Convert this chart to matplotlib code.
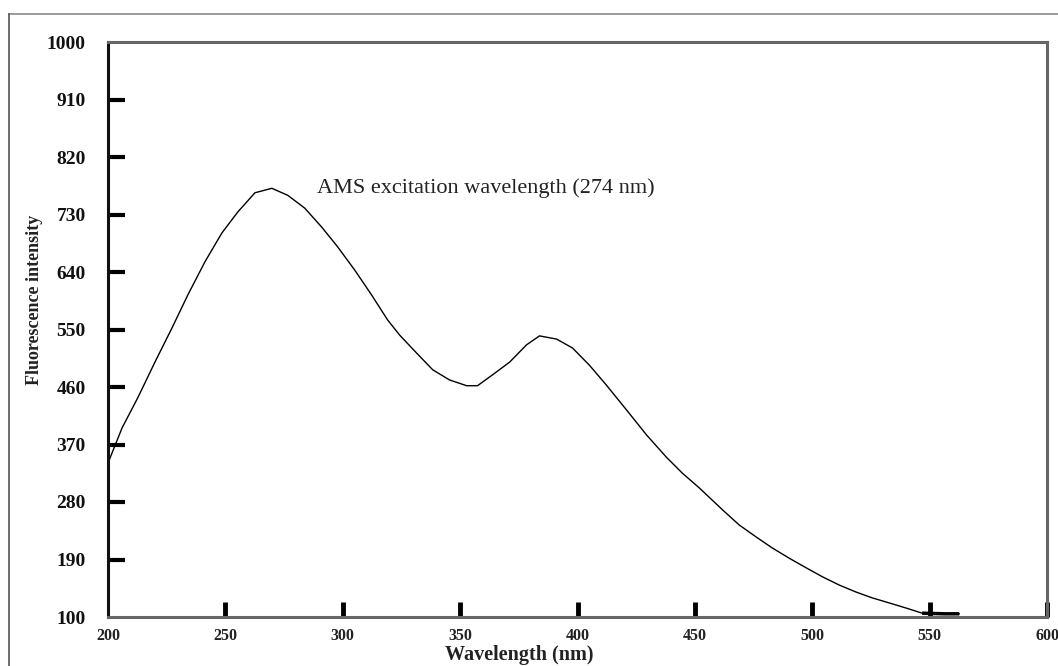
import matplotlib
matplotlib.use("Agg")
import matplotlib.pyplot as plt
from matplotlib.lines import Line2D

# Data
wavelength = [200.0, 206.0, 212.8, 220.0, 227.2, 234.0, 241.3, 248.5, 255.3, 262.6,
              269.8, 276.6, 283.8, 291.1, 297.9, 305.1, 312.3, 319.1, 324.3, 331.5,
              338.3, 345.5, 352.8, 357.4, 363.8, 371.1, 378.3, 383.8, 391.1, 397.9,
              405.1, 412.3, 420.9, 429.4, 437.9, 444.7, 451.9, 461.7, 468.9, 476.2,
              483.0, 490.2, 497.4, 504.3, 511.5, 518.7, 525.5, 532.8, 540.0, 546.8,
              556.2, 562.6]
intensity = [341, 396, 444, 499, 552, 604, 656, 701, 734, 764,
             771, 760, 740, 710, 679, 643, 604, 565, 541, 513,
             487, 471, 462, 462, 479, 499, 526, 540, 535, 521,
             494, 463, 424, 385, 350, 325, 302, 268, 244, 225,
             208, 192, 177, 163, 150, 139, 130, 122, 114, 106,
             105, 105]

x_ticks = [200, 250, 300, 350, 400, 450, 500, 550, 600]
y_ticks = [100, 190, 280, 370, 460, 550, 640, 730, 820, 910, 1000]

annotation = "AMS excitation wavelength (274 nm)"
x_label = "Wavelength (nm)"
y_label = "Fluorescence intensity"

W, H = 1058, 666
fig = plt.figure(figsize=(W / 100, H / 100), dpi=100)
fig.patch.set_facecolor("white")

# outer frame (top and left lines)
fig.add_artist(Line2D([9 / W, 1.0], [1 - 14 / H, 1 - 14 / H], transform=fig.transFigure,
                      color="#8a8a8a", lw=1.2))
fig.add_artist(Line2D([9 / W, 9 / W], [0, 1 - 14 / H], transform=fig.transFigure,
                      color="#555555", lw=1.2))

ax = fig.add_axes([108 / W, 1 - 617 / H, (1047 - 108) / W, (617 - 42) / H])
ax.plot(wavelength, intensity, color="black", lw=1.0, solid_joinstyle="round")
# the tail of the trace is drawn heavier in the reference
ax.plot(wavelength[-3:], intensity[-3:], color="black", lw=2.5, solid_capstyle="butt")

ax.set_xlim(200, 600)
ax.set_ylim(100, 1000)
ax.set_xticks(x_ticks)
ax.set_yticks(y_ticks)

serif = ["Liberation Serif", "DejaVu Serif"]
ax.set_xticklabels([str(v) for v in x_ticks], fontfamily=serif, fontweight="bold",
                   fontsize=11.5, color="#222222")
ax.set_yticklabels([str(v) for v in y_ticks], fontfamily=serif, fontweight="bold",
                   fontsize=14, color="#111111")

ax.tick_params(axis="y", direction="in", length=12, width=3, pad=16, color="black")
ax.tick_params(axis="x", direction="in", length=11, width=3.5, pad=8, color="black")
ax.tick_params(top=False, right=False)

# corner ticks are not drawn in the reference
xt = ax.xaxis.get_major_ticks()
xt[0].tick1line.set_visible(False)
yt = ax.yaxis.get_major_ticks()
yt[0].tick1line.set_visible(False)
yt[-1].tick1line.set_visible(False)

for side in ["top", "right", "bottom"]:
    ax.spines[side].set_color("#666666")
    ax.spines[side].set_linewidth(2.2)
ax.spines["left"].set_color("#111111")
ax.spines["left"].set_linewidth(2.2)

ax.text(288.9, 771, annotation, fontfamily=serif, fontsize=16, ha="left", va="center",
        color="#222222")

fig.text(519 / W, 1 - 655 / H, x_label, fontfamily=serif, fontweight="bold",
         fontsize=14.5, ha="center", va="center", color="#222222")
fig.text(35 / W, 1 - 300 / H, y_label, fontfamily=serif, fontweight="bold",
         fontsize=13, ha="center", va="center", rotation=90, color="#222222")

fig.savefig("out.png", dpi=100, facecolor="white")
